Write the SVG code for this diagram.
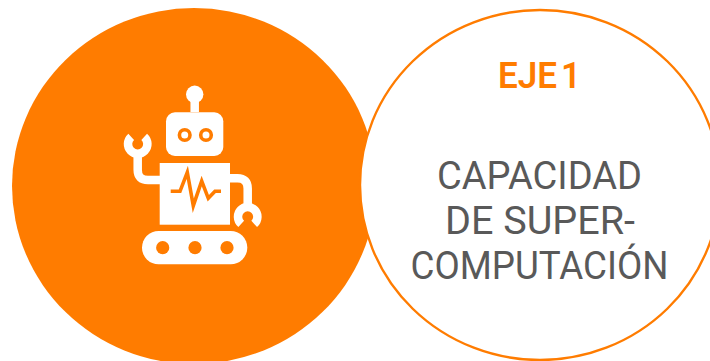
<svg xmlns="http://www.w3.org/2000/svg" width="710" height="361" viewBox="0 0 710 361">
<style>
.w{fill:#fff}
.o{fill:#ff7c00}
.ws{fill:none;stroke:#fff;stroke-width:8.5}
.t{font-family:"Roboto","Liberation Sans",sans-serif;text-anchor:middle;font-size:39.5px;fill:#595959}
</style>
<rect width="710" height="361" fill="#fff"/>
<g id="robot-circle">
<ellipse cx="194" cy="186" rx="182" ry="178" class="o"/>
<g id="robot">
<path class="ws" d="M194.7 112V96"/>
<circle class="w" cx="194.7" cy="94.3" r="8.7"/>
<rect class="w" x="166" y="112.3" width="57.3" height="43.7" rx="9"/>
<circle cx="184.7" cy="135" r="5.3" fill="#fff" stroke="#ff7c00" stroke-width="3.6"/>
<circle cx="206" cy="135" r="5.3" fill="#fff" stroke="#ff7c00" stroke-width="3.6"/>
<path class="ws" d="M160 180H148Q137.7 180 137.7 169.7V152"/>
<path class="ws" d="M131.2 136.8A9.7 9.7 0 1 0 144.2 136.8"/>
<path class="ws" d="M230 178.3H237.4Q247.7 178.3 247.7 188.6V207"/>
<path class="ws" d="M241.2 223.9A9.7 9.7 0 1 1 254.2 223.9"/>
<rect class="w" x="159.7" y="163" width="70.3" height="61.7"/>
<polyline points="170.7,191.3 180,191.3 187.3,172.3 193.3,205.7 201.7,181 208.3,198.3 215,191.3 221,191.3" fill="none" stroke="#ff7c00" stroke-width="3.6"/>
<rect class="w" x="142" y="231" width="105.3" height="33.3" rx="16.6"/>
<circle class="o" cx="162.7" cy="247.7" r="6.6"/>
<circle class="o" cx="195" cy="247.7" r="6.6"/>
<circle class="o" cx="227" cy="247.7" r="6.6"/>
</g>
</g>
<g id="text-circle">
<ellipse cx="540" cy="185" rx="180" ry="175" fill="#fff" stroke="#ff7c00" stroke-width="2.4"/>
<text x="539.5" y="88.3" textLength="83" lengthAdjust="spacingAndGlyphs" style="font-family:Roboto,'Liberation Sans',sans-serif;text-anchor:middle;font-size:37px;font-weight:600;word-spacing:-5px;fill:#ff7c00">EJE 1</text>
<text class="t" x="539.5" y="189" textLength="205" lengthAdjust="spacingAndGlyphs">CAPACIDAD</text>
<text class="t" x="540" y="234" textLength="190" lengthAdjust="spacingAndGlyphs">DE SUPER-</text>
<text class="t" x="539.5" y="279.3" textLength="258" lengthAdjust="spacingAndGlyphs">COMPUTACIÓN</text>
</g>
</svg>
